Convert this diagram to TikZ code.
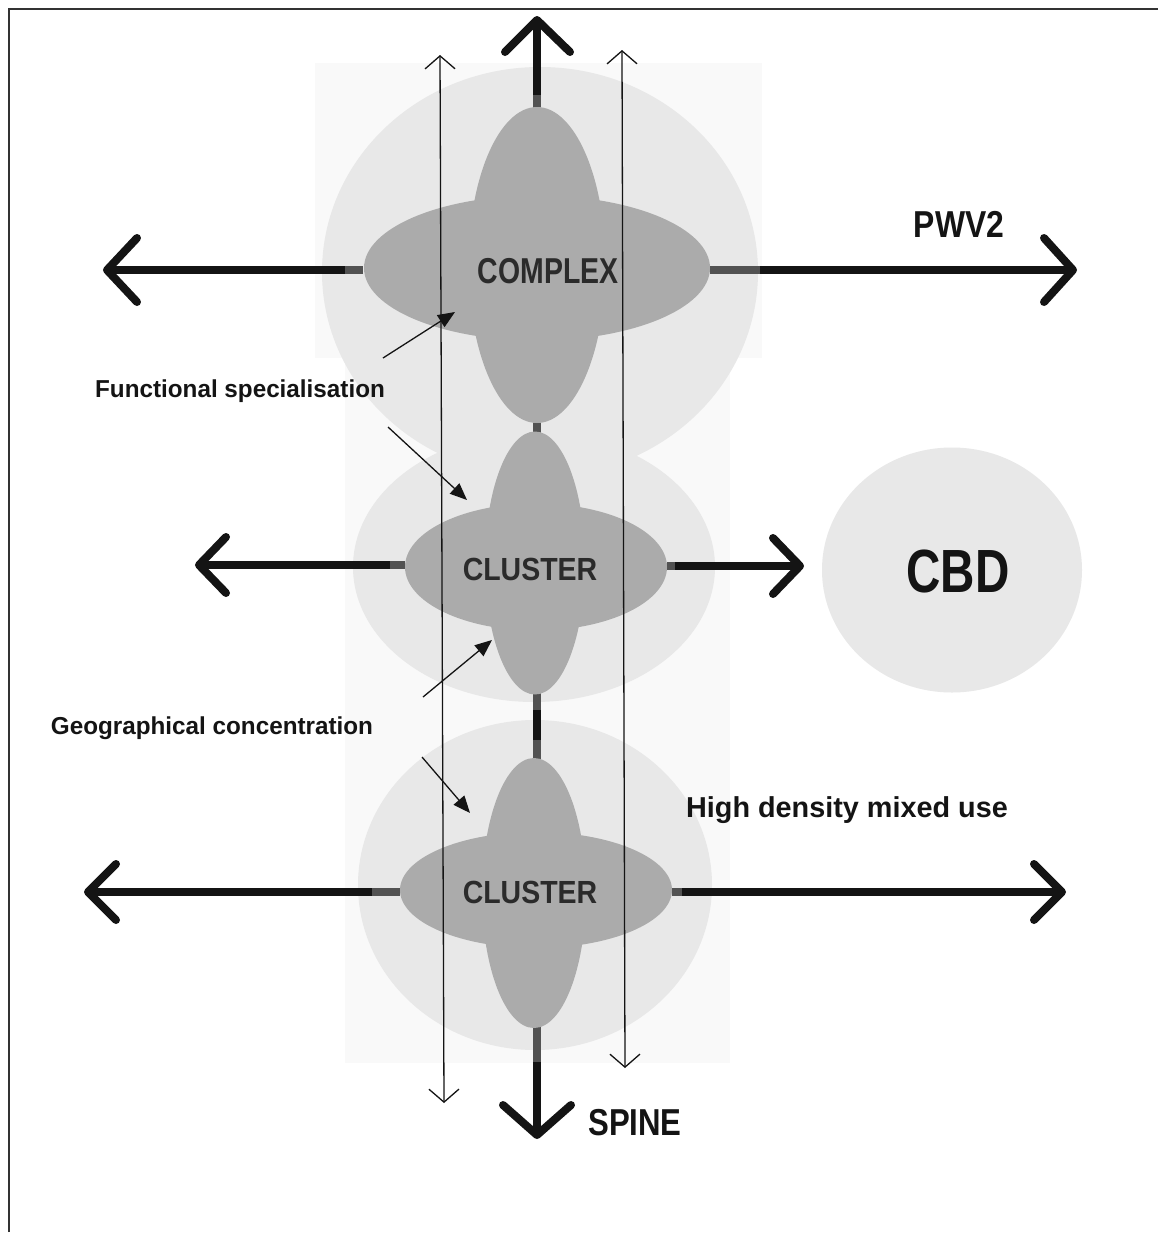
\documentclass[tikz,border=0pt]{standalone}
\usepackage{fontspec}
\usepackage{graphicx}
\setmainfont{Liberation Sans}
\usetikzlibrary{arrows.meta,shapes.geometric,calc}

\definecolor{panel}{gray}{0.978}
\definecolor{halo}{gray}{0.91}
\definecolor{core}{gray}{0.67}
\definecolor{stub}{gray}{0.32}
\definecolor{ink}{gray}{0.08}
\definecolor{coreink}{gray}{0.17}

% bold label text at a given size, squeezed horizontally
\newcommand\fitlabel[3]{{\fontsize{#1}{#1}\selectfont\bfseries\scalebox{#2}[1]{#3}}}

\tikzset{
  halozone/.style={ellipse, fill=halo, draw=none, inner sep=0pt},
  lobe/.style={ellipse, fill=core, draw=none, inner sep=0pt},
  road/.style={line width=8pt, draw=ink},
  roadstub/.style={line width=8pt, draw=stub},
  chevron/.style={line width=8pt, draw=ink, line cap=round, line join=round},
  axisline/.style={line width=1.3pt, draw=ink,
    {Straight Barb[length=13pt,width=30pt]}-{Straight Barb[length=13pt,width=30pt]}},
  pointer/.style={line width=1.3pt, draw=ink, -{Triangle[length=17pt,width=14pt]}},
  txt/.style={inner sep=0pt, anchor=base, text=ink},
}

\begin{document}
\begin{tikzpicture}[x=1pt,y=-1pt]
\useasboundingbox (0,0) rectangle (1158,1235);
\fill[white] (0,0) rectangle (1158,1235);

% frame (top and left edges)
\draw[line width=2pt, draw=gray!40!black] (9,1232) -- (9,9) -- (1158,9);

% faint panels behind the zones
\fill[panel] (315,63) rectangle (762,358);
\fill[panel] (345,358) rectangle (730,1063);

% light zones
\node[halozone, minimum width=436pt, minimum height=410pt] (zoneA) at (540,272) {};
\node[halozone, minimum width=362pt, minimum height=270pt] (zoneB) at (534,567) {};
\node[halozone, minimum width=354pt, minimum height=330pt] (zoneC) at (535,885) {};
\node[halozone, minimum width=260pt, minimum height=245pt] (zoneD) at (952,570) {};

% ---- corridor arrows ----
% top row (PWV2)
\coordinate (aLs) at (363,270); \coordinate (aLm) at (345,270); \coordinate (aLt) at (107,270);
\coordinate (aRs) at (710,270); \coordinate (aRm) at (760,270); \coordinate (aRt) at (1073,270);
\draw[roadstub] (aLs) -- (aLm);
\draw[road] (aLm) -- (aLt);
\draw[chevron] ($(aLt)+(30,-32)$) -- (aLt) -- ($(aLt)+(30,32)$);
\draw[roadstub] (aRs) -- (aRm);
\draw[road] (aRm) -- (aRt);
\draw[chevron] ($(aRt)+(-29,-32)$) -- (aRt) -- ($(aRt)+(-29,32)$);

% middle row
\coordinate (bLs) at (405,565); \coordinate (bLm) at (390,565); \coordinate (bLt) at (199,565);
\coordinate (bRs) at (667,566); \coordinate (bRm) at (675,566); \coordinate (bRt) at (800,566);
\draw[roadstub] (bLs) -- (bLm);
\draw[road] (bLm) -- (bLt);
\draw[chevron] ($(bLt)+(27,-28)$) -- (bLt) -- ($(bLt)+(27,28)$);
\draw[roadstub] (bRs) -- (bRm);
\draw[road] (bRm) -- (bRt);
\draw[chevron] ($(bRt)+(-27,-28)$) -- (bRt) -- ($(bRt)+(-27,28)$);

% bottom row
\coordinate (cLs) at (400,892); \coordinate (cLm) at (372,892); \coordinate (cLt) at (88,892);
\coordinate (cRs) at (672,892); \coordinate (cRm) at (682,892); \coordinate (cRt) at (1062,892);
\draw[roadstub] (cLs) -- (cLm);
\draw[road] (cLm) -- (cLt);
\draw[chevron] ($(cLt)+(28,-28)$) -- (cLt) -- ($(cLt)+(28,28)$);
\draw[roadstub] (cRs) -- (cRm);
\draw[road] (cRm) -- (cRt);
\draw[chevron] ($(cRt)+(-28,-28)$) -- (cRt) -- ($(cRt)+(-28,28)$);

% spine
\coordinate (sTop) at (537,20);   \coordinate (sA) at (537,95);  \coordinate (sB) at (537,110);
\coordinate (sC) at (537,420);    \coordinate (sD) at (537,434);
\coordinate (sE) at (537,693);    \coordinate (sF) at (537,710);
\coordinate (sG) at (537,740);    \coordinate (sH) at (537,760);
\coordinate (sI) at (537,1026);   \coordinate (sJ) at (537,1062);
\coordinate (sBot) at (537,1135);
\draw[road] (sTop) -- (sA);
\draw[roadstub] (sA) -- (sB);
\draw[roadstub] (sC) -- (sD);
\draw[roadstub] (sE) -- (sF);
\draw[road] (sF) -- (sG);
\draw[roadstub] (sG) -- (sH);
\draw[roadstub] (sI) -- (sJ);
\draw[road] (sJ) -- (sBot);
\draw[chevron] ($(sTop)+(-32,32)$) -- (sTop) -- ($(sTop)+(33,32)$);
\draw[chevron] ($(sBot)+(-34,-30)$) -- (sBot) -- ($(sBot)+(34,-30)$);

% ---- cores (two crossed lobes each) ----
\node[lobe, minimum width=346pt, minimum height=145pt] (coreAh) at (537,268) {};
\node[lobe, minimum width=137pt, minimum height=316pt] (coreAv) at (537,265) {};
\node[lobe, minimum width=262pt, minimum height=127pt] (coreBh) at (536,567) {};
\node[lobe, minimum width=100pt, minimum height=263pt] (coreBv) at (535,563) {};
\node[lobe, minimum width=272pt, minimum height=116pt] (coreCh) at (536,890) {};
\node[lobe, minimum width=104pt, minimum height=270pt] (coreCv) at (534,893) {};

% ---- thin axis lines ----
\coordinate (axL1) at (440,55);  \coordinate (axL2) at (444,1103);
\coordinate (axR1) at (622,50);  \coordinate (axR2) at (625,1068);
\draw[axisline] (axL1) -- (axL2);
\draw[axisline] (axR1) -- (axR2);

% ---- pointers from the side labels ----
\coordinate (p1s) at (383,358); \coordinate (p1e) at (455,312);
\coordinate (p2s) at (388,427); \coordinate (p2e) at (467,500);
\coordinate (p3s) at (423,697); \coordinate (p3e) at (492,640);
\coordinate (p4s) at (422,757); \coordinate (p4e) at (470,813);
\draw[pointer] (p1s) -- (p1e);
\draw[pointer] (p2s) -- (p2e);
\draw[pointer] (p3s) -- (p3e);
\draw[pointer] (p4s) -- (p4e);

% ---- texts ----
\node[txt, text=coreink] (tComplex) at (548,283) {\fitlabel{36}{0.79}{COMPLEX}};
\node[txt, text=coreink] (tClusterA) at (530,580) {\fitlabel{32}{0.89}{CLUSTER}};
\node[txt, text=coreink] (tClusterB) at (530,903) {\fitlabel{32}{0.89}{CLUSTER}};
\node[txt] (tCbd) at (958,592) {\fitlabel{61}{0.78}{CBD}};
\node[txt] (tSpine) at (635,1135) {\fitlabel{37.5}{0.83}{SPINE}};
\node[txt] (tPwv) at (959,237) {\fitlabel{37.5}{0.85}{PWV2}};
\node[txt] (tFunc) at (240,397) {\fitlabel{24.5}{0.99}{Functional specialisation}};
\node[txt] (tGeo) at (212,734) {\fitlabel{24.5}{0.99}{Geographical concentration}};
\node[txt] (tMixed) at (847,817) {\fitlabel{28.8}{1.0}{High density mixed use}};
\end{tikzpicture}
\end{document}
